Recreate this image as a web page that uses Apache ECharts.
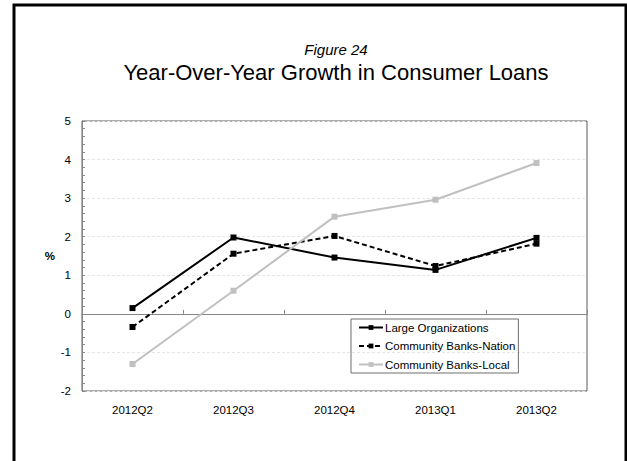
<!DOCTYPE html>
<html>
<head>
<meta charset="utf-8">
<script src="https://cdn.jsdelivr.net/npm/echarts@6/dist/echarts.min.js"></script>
<style>
html,body{margin:0;padding:0;background:#fff;}
#chart{width:627px;height:461px;}
</style>
</head>
<body>
<div id="chart"></div>
<script>
const categories = ['2012Q2', '2012Q3', '2012Q4', '2013Q1', '2013Q2'];
const largeOrgs = [0.15, 1.98, 1.46, 1.14, 1.97];
const cbNation = [-0.34, 1.56, 2.02, 1.24, 1.82];
const cbLocal = [-1.30, 0.60, 2.52, 2.96, 3.91];
const seriesNames = ['Large Organizations', 'Community Banks-Nation', 'Community Banks-Local'];
const figureLabel = 'Figure 24';
const chartTitle = 'Year-Over-Year Growth in Consumer Loans';
const yUnit = '%';

const FONT = '"Liberation Sans", Arial, sans-serif';
const chart = echarts.init(document.getElementById('chart'), null, {renderer: 'svg'});

chart.setOption({
  animation: false,
  backgroundColor: '#fff',
  textStyle: {fontFamily: FONT},
  graphic: [{
    type: 'rect',
    shape: {x: 14, y: 5, width: 612, height: 470},
    style: {fill: 'none', stroke: '#000', lineWidth: 3},
    silent: true
  }],
  title: [{
    text: figureLabel,
    left: 331, top: 37, textAlign: 'center',
    textStyle: {fontFamily: FONT, fontSize: 15, fontStyle: 'italic', fontWeight: 'normal', color: '#000'}
  }, {
    text: chartTitle,
    left: 331, top: 56, textAlign: 'center',
    textStyle: {fontFamily: FONT, fontSize: 22, fontWeight: 'normal', color: '#000'}
  }],
  grid: {left: 82, right: 40, top: 121, bottom: 70, show: true, borderColor: '#5a5a5a', borderWidth: 1, backgroundColor: 'transparent'},
  legend: {
    orient: 'vertical',
    left: 351, top: 319,
    data: seriesNames,
    itemWidth: 24, itemHeight: 6, itemGap: 5.5,
    padding: [2, 3, 2, 7],
    borderColor: '#6e6e6e', borderWidth: 1,
    textStyle: {fontFamily: FONT, fontSize: 11.5, lineHeight: 13, color: '#000', padding: [0, 0, 0, -3]}
  },
  xAxis: {
    type: 'category',
    data: categories,
    boundaryGap: true,
    axisLine: {lineStyle: {color: '#868686', width: 1}},
    axisTick: {show: true, inside: true, length: 4, lineStyle: {color: '#868686'}},
    axisLabel: {fontFamily: FONT, fontSize: 11.5, color: '#000', margin: 13},
    splitLine: {show: false}
  },
  yAxis: {
    type: 'value',
    min: -2, max: 5, interval: 1,
    name: yUnit, nameLocation: 'middle', nameRotate: 0, nameGap: 27,
    nameTextStyle: {fontFamily: FONT, fontSize: 11.5, color: '#000', fontWeight: 'bold'},
    axisLine: {show: true, lineStyle: {color: '#868686', width: 1}},
    axisTick: {show: true, inside: true, length: 3, lineStyle: {color: '#868686'}},
    minorTick: {show: true, splitNumber: 5, length: 3, lineStyle: {color: '#868686'}},
    axisLabel: {fontFamily: FONT, fontSize: 11.5, color: '#000', margin: 11},
    splitLine: {show: true, lineStyle: {color: '#e6e6e6', type: [3, 2], width: 1}}
  },
  series: [{
    name: seriesNames[0], type: 'line', data: largeOrgs,
    symbol: 'rect', symbolSize: 6,
    lineStyle: {color: '#000', width: 2},
    itemStyle: {color: '#000'}
  }, {
    name: seriesNames[1], type: 'line', data: cbNation,
    symbol: 'rect', symbolSize: 6,
    lineStyle: {color: '#000', width: 2, type: [5, 3]},
    itemStyle: {color: '#000'}
  }, {
    name: seriesNames[2], type: 'line', data: cbLocal,
    symbol: 'rect', symbolSize: 6,
    lineStyle: {color: '#c0c0c0', width: 2},
    itemStyle: {color: '#c0c0c0'}
  }]
});
</script>
</body>
</html>
